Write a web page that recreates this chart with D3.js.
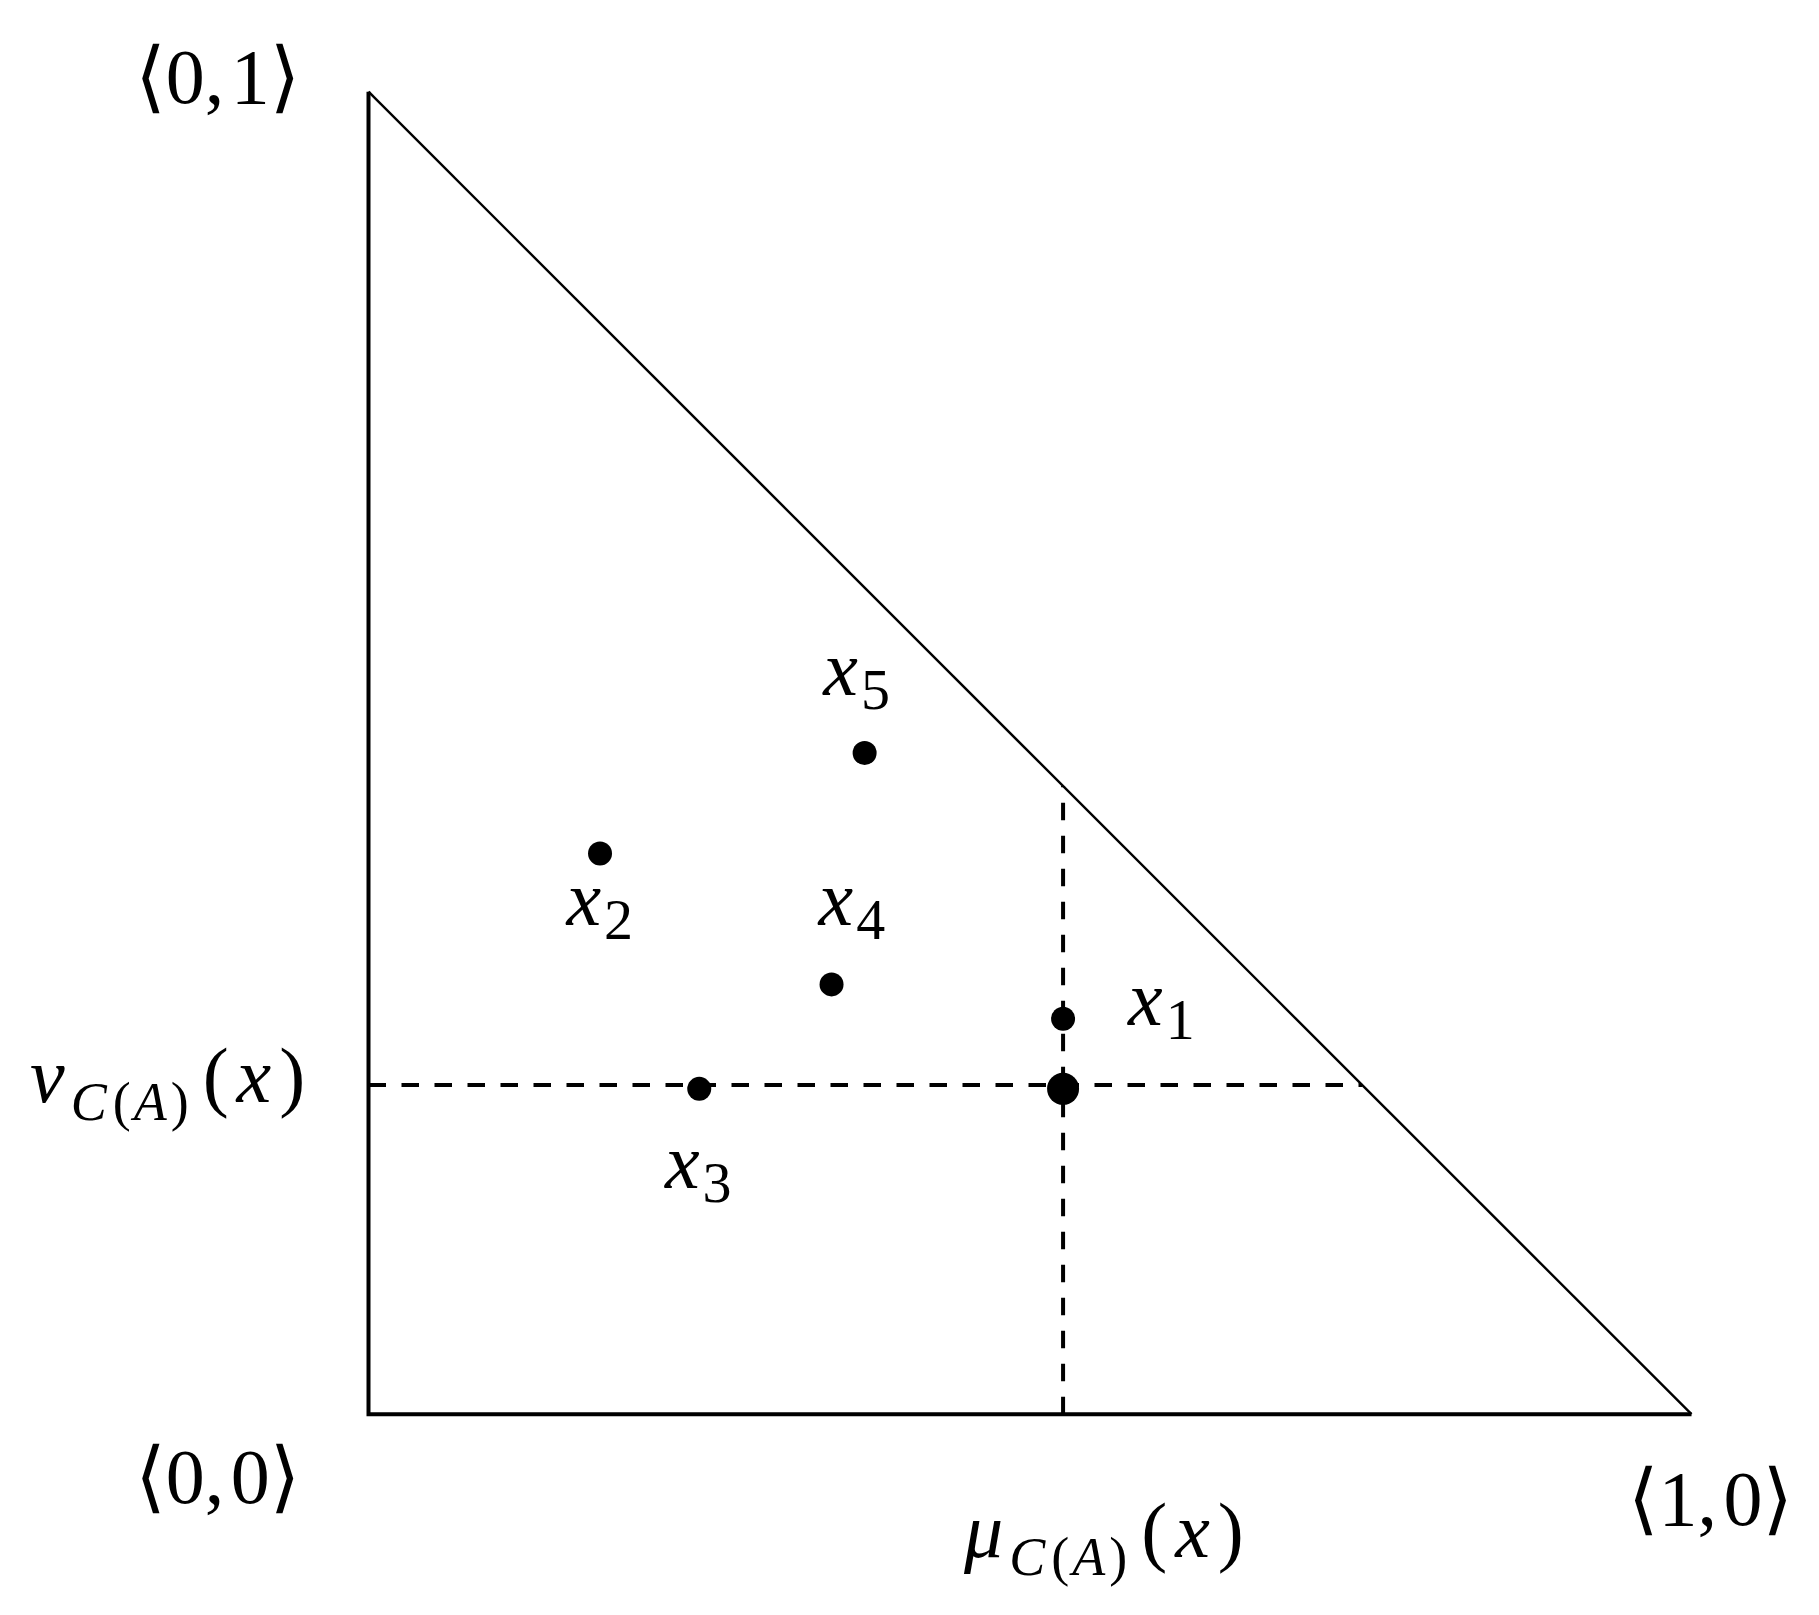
<!DOCTYPE html>
<html>
<head>
<meta charset="utf-8">
<script src="https://cdn.jsdelivr.net/npm/d3@7"></script>
<style>
  html, body { margin: 0; padding: 0; background: #fff; }
  svg { display: block; }
  text { font-family: "Liberation Serif", "DejaVu Serif", serif; fill: #000; }
</style>
</head>
<body>
<svg id="chart" width="1819" height="1615"></svg>
<script>
// ---- data ----
const pointIds = ["x", "x", "x", "x", "x"];
const pointSubs = ["1", "2", "3", "4", "5"];
const muValues = [0.525, 0.175, 0.250, 0.350, 0.375];
const nuValues = [0.299, 0.424, 0.246, 0.325, 0.500];
const focusPoint = [0.525, 0.246];       // highlighted point (mu, nu)
const guideValues = [0.525, 0.249];      // dashed guide lines (mu, nu)
const cornerLabels = ["⟨0,\u200A1⟩", "⟨0,\u200A0⟩", "⟨1,\u200A0⟩"];
const cornerCoords = [[0, 1], [0, 0], [1, 0]];

// ---- layout ----
const svg = d3.select("#chart");
const x = d3.scaleLinear().domain([0, 1]).range([368.5, 1691.5]);
const y = d3.scaleLinear().domain([0, 1]).range([1414.2, 91.7]);
const line = d3.line().x(d => x(d[0])).y(d => y(d[1]));

// triangle: vertical + bottom axis (thicker), hypotenuse (thinner)
svg.append("path")
  .attr("d", line([[0, 1], [0, 0], [1, 0]]))
  .attr("fill", "none").attr("stroke", "#000").attr("stroke-width", 4)
  .attr("stroke-linejoin", "miter");
svg.append("path")
  .attr("d", line([[0, 1], [1, 0]]))
  .attr("fill", "none").attr("stroke", "#000").attr("stroke-width", 2.4);

// dashed guides, from the axes to the hypotenuse
const dash = "17.5,15.5";
svg.append("path")
  .attr("d", line([[0, guideValues[1]], [1 - guideValues[1], guideValues[1]]]))
  .attr("fill", "none").attr("stroke", "#000").attr("stroke-width", 4)
  .attr("stroke-dasharray", dash);
svg.append("path")
  .attr("d", line([[guideValues[0], 0], [guideValues[0], 1 - guideValues[0]]]))
  .attr("fill", "none").attr("stroke", "#000").attr("stroke-width", 4)
  .attr("stroke-dasharray", dash);

// points
const pts = muValues.map((m, i) => ({ mu: m, nu: nuValues[i], id: pointIds[i], sub: pointSubs[i] }));
svg.selectAll("circle.pt").data(pts).enter().append("circle")
  .attr("class", "pt")
  .attr("cx", d => x(d.mu)).attr("cy", d => y(d.nu)).attr("r", 12);
svg.append("circle")
  .attr("cx", x(focusPoint[0])).attr("cy", y(focusPoint[1])).attr("r", 16);

// point labels (offsets in px from each dot)
const labelOffsets = [[65, 6.7], [-33.6, 71.7], [-34.3, 99.3], [-13, -59.7], [-41.3, -58.3]];
pts.forEach((d, i) => {
  const t = svg.append("text")
    .attr("x", x(d.mu) + labelOffsets[i][0])
    .attr("y", y(d.nu) + labelOffsets[i][1])
    .attr("font-size", 78);
  t.append("tspan").attr("font-style", "italic").text(d.id);
  t.append("tspan").attr("font-size", 58).attr("dx", 3).attr("dy", 14).text(d.sub);
});

// corner labels
const cornerOffsets = [[-150.8, 11.6], [-150.8, 88.5], [19, 110.8]];
cornerLabels.forEach((lab, i) => {
  svg.append("text")
    .attr("x", x(cornerCoords[i][0]) + cornerOffsets[i][0])
    .attr("y", y(cornerCoords[i][1]) + cornerOffsets[i][1])
    .attr("font-size", 78)
    .attr("text-anchor", "middle")
    .text(lab);
});

// axis labels
function mathLabel(greek, px, py) {
  const t = svg.append("text").attr("x", px).attr("y", py).attr("font-size", 78);
  t.append("tspan").attr("font-style", "italic").text(greek);
  t.append("tspan").attr("font-size", 54).attr("dy", 18).attr("dx", 6).attr("font-style", "italic").text("C");
  t.append("tspan").attr("font-size", 54).attr("dx", 6).text("(");
  t.append("tspan").attr("font-size", 54).attr("dx", 3).attr("font-style", "italic").text("A");
  t.append("tspan").attr("font-size", 54).attr("dx", 4).text(")");
  t.append("tspan").attr("dy", -18).attr("dx", 14).text("(");
  t.append("tspan").attr("dx", 8).attr("font-style", "italic").text("x");
  t.append("tspan").attr("dx", 8).text(")");
}
mathLabel("μ", x(guideValues[0]) - 99, y(0) + 142.5);
mathLabel("ν", 30, y(guideValues[1]) + 16.7);
</script>
</body>
</html>
